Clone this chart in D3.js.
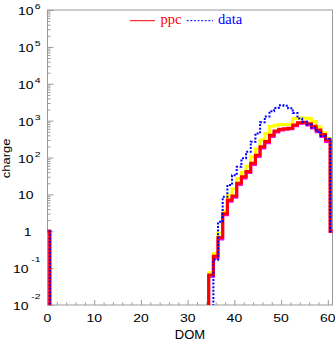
<!DOCTYPE html>
<html>
<head>
<meta charset="utf-8">
<script src="https://cdn.jsdelivr.net/npm/d3@7"></script>
<style>
  html, body { margin: 0; padding: 0; background: #fff; }
  svg { display: block; }
  text { font-family: "Liberation Sans", Arial, sans-serif; }
  text.serif { font-family: "Liberation Serif", "Times New Roman", serif; }
</style>
</head>
<body>
<svg id="chart" width="335" height="342"></svg>
<script>
// DOM bins (bin centres) that carry charge; every other bin is empty.
const domBins = [0, 34, 35, 36, 37, 38, 39, 40, 41, 42, 43, 44, 45, 46, 47,
                 48, 49, 50, 51, 52, 53, 54, 55, 56, 57, 58, 59, 60, 61];

// Simulation (ppc) in red, with two companion simulation curves.
const ppcValues = [1, 0, 0.065, 0.21, 0.68, 3.0, 7.0, 9.0, 20, 30, 42, 70, 115, 195, 270,
                   400, 520, 580, 600, 620, 760, 880, 900, 820, 700, 560, 420, 300, 1];
const yellowValues = [1, 0, 0.075, 0.25, 0.88, 3.5, 9.5, 14, 27, 40, 58, 105, 170, 300, 450,
                      700, 750, 780, 790, 800, 1150, 1170, 1170, 1150, 950, 680, 470, 330, 1];
const magentaValues = [1, 0, 0.06, 0.19, 0.62, 2.8, 6.5, 8.4, 18.5, 28, 39, 65, 106, 180, 250,
                       370, 490, 560, 580, 600, 730, 850, 860, 760, 630, 500, 370, 270, 1];
// Measured data in blue.
const dataValues = [1, 0, 0, 0.17, 1.8, 8.6, 18, 33, 56, 95, 143, 267, 450, 900, 1300,
                    1800, 2200, 2600, 2550, 2150, 1600, 1150, 930, 780, 640, 500, 380, 320, 1];

const xTicksMajor = [0, 10, 20, 30, 40, 50, 60];
const yExponents = [-2, -1, 0, 1, 2, 3, 4, 5, 6];

const svg = d3.select("#chart");
const plotLeft = 47.5, plotRight = 332.5, plotTop = 10, plotBottom = 305;

const x = d3.scaleLinear().domain([0, 61]).range([plotLeft, plotRight]);
const y = d3.scaleLog().domain([1e-2, 1e6]).range([plotBottom, plotTop]);

const axisColor = "#9a9a9a";

svg.append("defs").append("clipPath").attr("id", "plotClip")
  .append("rect").attr("x", plotLeft).attr("y", plotTop)
  .attr("width", plotRight - plotLeft).attr("height", plotBottom - plotTop);

// Minor / major ticks, pointing into the frame
const xMinor = d3.range(0, 61, 2).filter(v => v % 10 !== 0);
const yMinor = [];
yExponents.slice(0, -1).forEach(e => { for (let k = 2; k <= 9; k++) yMinor.push(k * Math.pow(10, e)); });
const yMajor = yExponents.map(e => Math.pow(10, e));

function styleAxis(g) {
  g.select(".domain").remove();
  g.selectAll("line").attr("stroke", axisColor);
}
svg.append("g").attr("transform", `translate(${plotLeft},0)`)
  .call(d3.axisRight(y).tickValues(yMinor).tickSize(3).tickFormat("")).call(styleAxis);
svg.append("g").attr("transform", `translate(${plotLeft},0)`)
  .call(d3.axisRight(y).tickValues(yMajor).tickSize(6).tickFormat("")).call(styleAxis);
svg.append("g").attr("transform", `translate(0,${plotBottom})`)
  .call(d3.axisTop(x).tickValues(xMinor).tickSize(2.7).tickFormat("")).call(styleAxis);
svg.append("g").attr("transform", `translate(0,${plotBottom})`)
  .call(d3.axisTop(x).tickValues(xTicksMajor).tickSize(5).tickFormat("")).call(styleAxis);

// Frame
svg.append("rect").attr("x", plotLeft).attr("y", plotTop)
  .attr("width", plotRight - plotLeft).attr("height", plotBottom - plotTop)
  .attr("fill", "none").attr("stroke", axisColor).attr("stroke-width", 1);

// Step outline of a histogram: bins are one DOM wide, centred on the bin number
function stepPoints(bins, vals) {
  const pts = [];
  bins.forEach((b, i) => {
    pts.push([b - 0.5, vals[i]]);
    if (i === bins.length - 1 || bins[i + 1] !== b + 1) pts.push([b + 0.5, 0]);
  });
  return pts;
}
const line = d3.line()
  .x(d => x(d[0]))
  .y(d => d[1] > 0 ? y(d[1]) : plotBottom + 20)
  .curve(d3.curveStepAfter);

const plot = svg.append("g").attr("clip-path", "url(#plotClip)");
const series = [
  { vals: yellowValues, color: "#ffff00", width: 3, dash: null },
  { vals: magentaValues, color: "#ff00ff", width: 3, dash: null },
  { vals: ppcValues, color: "#ff0000", width: 3, dash: null },
  { vals: dataValues, color: "#0000ff", width: 2, dash: "2,1.6" }
];
series.forEach(s => {
  plot.append("path")
    .attr("d", line(stepPoints(domBins, s.vals)))
    .attr("fill", "none")
    .attr("stroke", s.color)
    .attr("stroke-width", s.width)
    .attr("stroke-dasharray", s.dash)
    .attr("stroke-linejoin", "miter");
});

// Y tick labels: 10 with raised exponent
const squat = 0.74;
yExponents.forEach(e => {
  const ty = y(Math.pow(10, e));
  if (e === 0 || e === 1) {
    svg.append("text")
      .attr("transform", `translate(${e === 0 ? 31.5 : 33.5},${ty + 5}) scale(1,${squat})`)
      .attr("text-anchor", "end").attr("font-size", 14).text(e === 0 ? "1" : "10");
    return;
  }
  const baseEnd = e < 0 ? 28.5 : 33.5;
  const expBase = e < 0 ? ty - 6.5 : ty - 1;
  svg.append("text")
    .attr("transform", `translate(${baseEnd},${ty + 5}) scale(1,${squat})`)
    .attr("text-anchor", "end").attr("font-size", 14).text("10");
  svg.append("text")
    .attr("transform", `translate(40.5,${expBase}) scale(1,${squat})`)
    .attr("text-anchor", "end").attr("font-size", 10.5).text(String(e));
});

// X tick labels
xTicksMajor.forEach(v => {
  svg.append("text")
    .attr("transform", `translate(${x(v)},${321.7}) scale(1,${squat})`)
    .attr("text-anchor", "middle").attr("font-size", 14).text(String(v));
});

// Axis titles
svg.append("text")
  .attr("transform", `translate(${(plotLeft + plotRight) / 2},339)`)
  .attr("text-anchor", "middle").attr("font-size", 13).text("DOM");
svg.append("text")
  .attr("transform", `translate(9.5,158.3) rotate(-90) scale(1,0.78)`)
  .attr("text-anchor", "middle").attr("font-size", 13).text("charge");

// Legend
const legY = 20.7;
svg.append("line").attr("x1", 130).attr("x2", 155).attr("y1", legY).attr("y2", legY)
  .attr("stroke", "#ff0000").attr("stroke-width", 1);
svg.append("text").attr("class", "serif").attr("x", 160.5).attr("y", 23.6)
  .attr("font-size", 14.5).attr("fill", "#ff0000").text("ppc");
svg.append("line").attr("x1", 186.7).attr("x2", 213).attr("y1", legY).attr("y2", legY)
  .attr("stroke", "#0000ff").attr("stroke-width", 1).attr("stroke-dasharray", "2,1.6");
svg.append("text").attr("class", "serif").attr("x", 218).attr("y", 23.6)
  .attr("font-size", 14.5).attr("fill", "#0000ff").text("data");
</script>
</body>
</html>
